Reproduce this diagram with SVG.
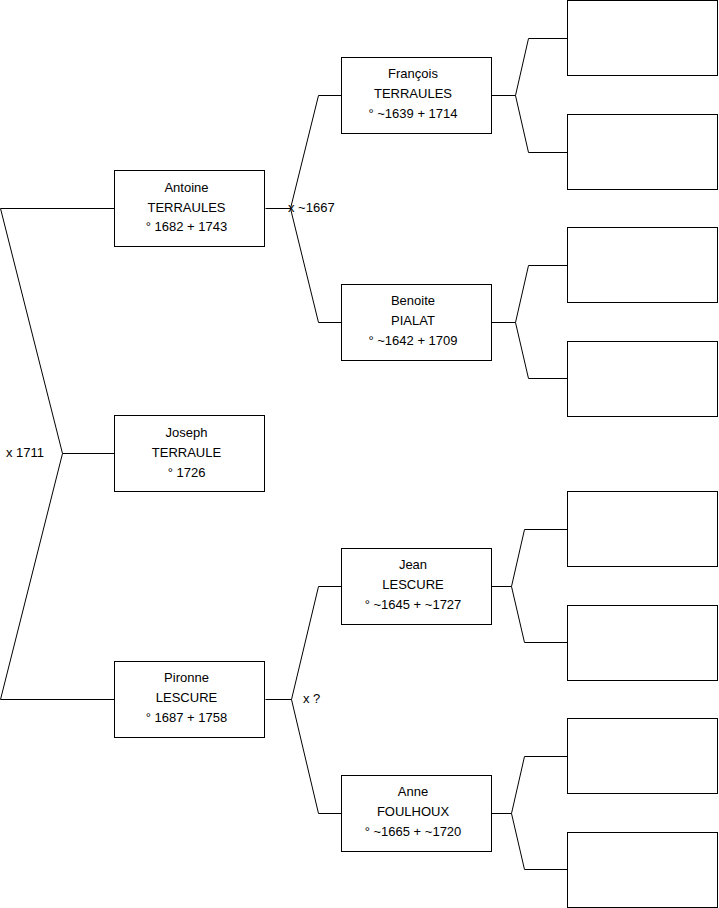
<svg xmlns="http://www.w3.org/2000/svg" width="719" height="908" viewBox="0 0 719 908">
<style>
.box{fill:#fff;stroke:#000;stroke-width:1}
.ln{fill:none;stroke:#000;stroke-width:1}
text{font-family:"Liberation Sans",Arial,sans-serif;font-size:13px;fill:#000}
.c{text-anchor:middle}
</style>
<rect width="719" height="908" fill="#fff"/>
<g id="connectors">
<path class="ln" d="M114.5,208.5 H0.5 L62.5,453.5 L0.5,699.5 H114.5 M62.5,453.5 H114.5"/>
<path class="ln" d="M265.5,208.5 H290.5 L318.5,95.5 H341 M290.5,208.5 L318.5,322.5 H341"/>
<path class="ln" d="M265.5,699.5 H291.5 L318.5,586.5 H341 M291.5,699.5 L318.5,813.5 H341"/>
<path class="ln" d="M491.5,95.5 H515.5 L528.5,38.5 H567 M515.5,95.5 L528.5,152.5 H567"/>
<path class="ln" d="M491.5,322.5 H515.5 L528.5,265.5 H567 M515.5,322.5 L528.5,378.5 H567"/>
<path class="ln" d="M491.5,586.5 H511.5 L524.5,529.5 H567 M511.5,586.5 L524.5,642.5 H567"/>
<path class="ln" d="M491.5,813.5 H511.5 L524.5,756.5 H567 M511.5,813.5 L524.5,869.5 H567"/>
<text x="6" y="457">x 1711</text>
<text x="288" y="212">x ~1667</text>
<text x="303" y="703">x ?</text>
</g>
<g id="antoine"><rect class="box" x="114.5" y="170.5" width="150" height="76"/>
<text class="c" x="186.5" y="191.5">Antoine</text><text class="c" x="186.5" y="211.5">TERRAULES</text><text class="c" x="186.5" y="231">° 1682 + 1743</text></g>
<g id="joseph"><rect class="box" x="114.5" y="415.5" width="150" height="76"/>
<text class="c" x="186.5" y="437">Joseph</text><text class="c" x="186.5" y="457">TERRAULE</text><text class="c" x="186.5" y="477">° 1726</text></g>
<g id="pironne"><rect class="box" x="114.5" y="661.5" width="150" height="76"/>
<text class="c" x="186.5" y="682">Pironne</text><text class="c" x="186.5" y="702">LESCURE</text><text class="c" x="186.5" y="722">° 1687 + 1758</text></g>
<g id="francois"><rect class="box" x="341.5" y="57.5" width="150" height="76"/>
<text class="c" x="413" y="78">François</text><text class="c" x="413" y="98">TERRAULES</text><text class="c" x="413" y="118">° ~1639 + 1714</text></g>
<g id="benoite"><rect class="box" x="341.5" y="284.5" width="150" height="76"/>
<text class="c" x="413" y="305">Benoite</text><text class="c" x="413" y="325">PIALAT</text><text class="c" x="413" y="345">° ~1642 + 1709</text></g>
<g id="jean"><rect class="box" x="341.5" y="548.5" width="150" height="76"/>
<text class="c" x="413" y="569">Jean</text><text class="c" x="413" y="589">LESCURE</text><text class="c" x="413" y="609">° ~1645 + ~1727</text></g>
<g id="anne"><rect class="box" x="341.5" y="775.5" width="150" height="76"/>
<text class="c" x="413" y="796">Anne</text><text class="c" x="413" y="816">FOULHOUX</text><text class="c" x="413" y="836">° ~1665 + ~1720</text></g>
<g id="r1"><rect class="box" x="567.5" y="0.5" width="150" height="75"/></g>
<g id="r2"><rect class="box" x="567.5" y="114.5" width="150" height="75"/></g>
<g id="r3"><rect class="box" x="567.5" y="227.5" width="150" height="75"/></g>
<g id="r4"><rect class="box" x="567.5" y="341.5" width="150" height="75"/></g>
<g id="r5"><rect class="box" x="567.5" y="491.5" width="150" height="75"/></g>
<g id="r6"><rect class="box" x="567.5" y="605.5" width="150" height="75"/></g>
<g id="r7"><rect class="box" x="567.5" y="718.5" width="150" height="75"/></g>
<g id="r8"><rect class="box" x="567.5" y="832.5" width="150" height="75"/></g>
</svg>
